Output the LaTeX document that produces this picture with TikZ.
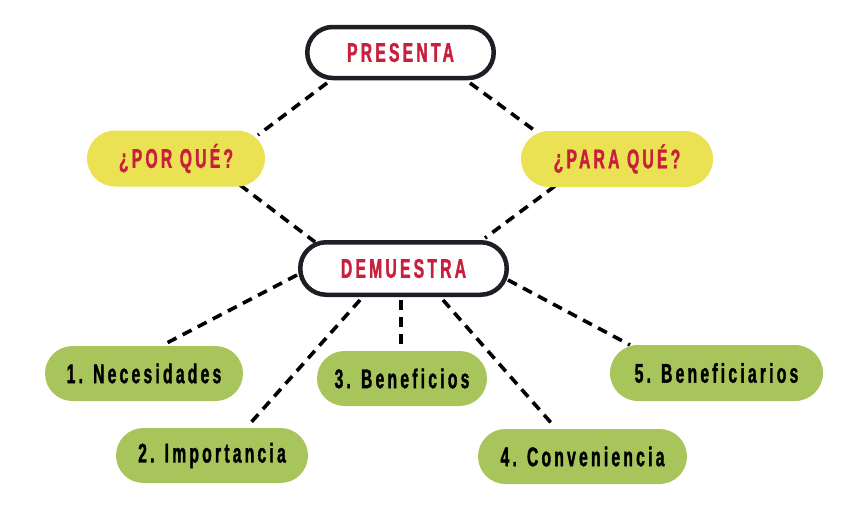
\documentclass[tikz,border=0pt]{standalone}
\usepackage{fontspec}
\newfontfamily\labfont{Liberation Sans}[FakeStretch=0.58,LetterSpace=12,BoldFeatures={FakeBold=1.3}]
\usetikzlibrary{calc}
\definecolor{redtxt}{HTML}{C8203C}
\definecolor{yel}{HTML}{EAE252}
\definecolor{grn}{HTML}{A7C55A}
\definecolor{edge}{HTML}{1E1E24}
\pgfdeclarelayer{bg}
\pgfsetlayers{bg,main}
\tikzset{
  base/.style={rectangle, inner sep=0pt, font=\labfont\fontsize{27}{29}\selectfont\bfseries, align=center},
  mainbox/.style={base, draw=edge, line width=4.5pt, fill=white, text=redtxt, minimum height=51pt, rounded corners=25.5pt},
  qbox/.style={base, fill=yel, text=redtxt, minimum height=56pt, rounded corners=28pt},
  gbox/.style={base, fill=grn, text=black, minimum height=55pt, rounded corners=27.5pt},
  link/.style={draw=black, line width=3.6pt, dash pattern=on 10pt off 7pt}
}
\begin{document}
\begin{tikzpicture}[x=1pt,y=-1pt]
\useasboundingbox (0,0) rectangle (859,522);
\node[mainbox, minimum width=186.5pt] (pres) at (400.5,52.5) {PRESENTA};
\node[qbox, minimum width=178pt] (por) at (176,158.5) {¿POR QUÉ?};
\node[qbox, minimum width=192pt] (para) at (617,159) {¿PARA QUÉ?};
\node[mainbox, minimum width=206.5pt, minimum height=52.5pt, rounded corners=26pt] (dem) at (403.5,268.5) {DEMUESTRA};
\node[gbox, minimum width=198pt] (n1) at (144,373.5) {1. Necesidades};
\node[gbox, minimum width=192pt] (n2) at (212,455.5) {2. Importancia};
\node[gbox, minimum width=170pt] (n3) at (402,378.5) {3. Beneficios};
\node[gbox, minimum width=209pt] (n4) at (582.5,456.5) {4. Conveniencia};
\node[gbox, minimum width=213pt, minimum height=56pt, rounded corners=28pt] (n5) at (716.5,373) {5. Beneficiarios};
\begin{pgfonlayer}{bg}
\draw[link] ([shift={(-73.5,30.5)}]pres.center) -- ([shift={(82,-23.5)}]por.center);
\draw[link] ([shift={(69.5,30.5)}]pres.center) -- ([shift={(-79,-26)}]para.center);
\draw[link] ([shift={(64,26.5)}]por.center) -- ([shift={(-88.5,-26.5)}]dem.center);
\draw[link] ([shift={(-62,27)}]para.center) -- ([shift={(81.5,-30.5)}]dem.center);
\draw[link] ([shift={(-106.5,6.5)}]dem.center) -- ([shift={(19,-28.5)}]n1.center);
\draw[link] ([shift={(-43.5,31.5)}]dem.center) -- ([shift={(35,-28.5)}]n2.center);
\draw[link] ([shift={(-2.5,31.5)}]dem.center) -- ([shift={(-1,-28.5)}]n3.center);
\draw[link] ([shift={(39.5,31.5)}]dem.center) -- ([shift={(-29.5,-31.5)}]n4.center);
\draw[link] ([shift={(104.5,11.5)}]dem.center) -- ([shift={(-86.5,-28)}]n5.center);
\end{pgfonlayer}
\end{tikzpicture}
\end{document}
